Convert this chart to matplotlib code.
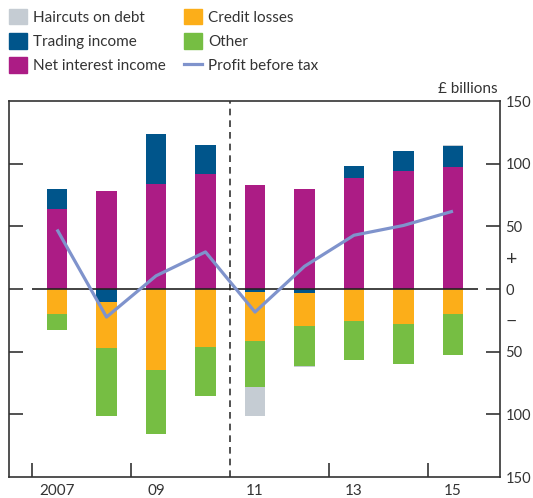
import matplotlib
matplotlib.use('Agg')
import matplotlib.pyplot as plt
import matplotlib.patches as mpatches
import matplotlib.lines as mlines
import numpy as np

plt.rcParams['font.family'] = ['Lato', 'DejaVu Sans']

years = np.array([2007, 2008, 2009, 2010, 2011, 2012, 2013, 2014, 2015])
year_labels = ['2007', '09', '11', '13', '15']
label_years = [2007, 2009, 2011, 2013, 2015]

# £ billions
net_interest = [64, 78, 83.5, 91.5, 82.7, 79.5, 88.3, 93.9, 97.1]
trading = [16, -10.7, 40, 23.2, -2.1, -2.9, 9.6, 16, 16.8]
credit_losses = [-20, -36.2, -64.5, -46.1, -39.2, -26.4, -25.3, -27.7, -19.7]
other = [-12.5, -54.4, -51.2, -39.2, -36.8, -32, -31.2, -32, -32.8]
haircuts = [0, 0, 0, 0, -23.2, -0.6, 0.6, 0.6, 0.6]
profit = [47.5, -22.4, 10.5, 29.6, -18.4, 18.1, 42.9, 50.7, 62.1]

series = [
    ('Net interest income', net_interest, '#AC1C85'),
    ('Trading income', trading, '#00558B'),
    ('Credit losses', credit_losses, '#FCAE19'),
    ('Other', other, '#76BE43'),
    ('Haircuts on debt', haircuts, '#C5CCD3'),
]
profit_color = '#7F93CC'
ink = '#333333'

fig = plt.figure(figsize=(5.33, 4.98), dpi=100)
ax = fig.add_axes([9/533, 1-477/498, 491/533, 376/498])

pos_base = np.zeros(len(years))
neg_base = np.zeros(len(years))
for name, vals, col in series:
    v = np.array(vals, dtype=float)
    base = np.where(v >= 0, pos_base, neg_base)
    ax.bar(years, v, bottom=base, width=0.42, color=col, linewidth=0, zorder=2)
    pos_base = pos_base + np.where(v > 0, v, 0)
    neg_base = neg_base + np.where(v < 0, v, 0)

ax.hlines(0, 2006.5, 2015.5, color='#222222', linewidth=1.2, zorder=3)
ax.plot(years, profit, color=profit_color, linewidth=2.3, zorder=4,
        solid_capstyle='butt')
ax.axvline(2010.5, color='#333333', linewidth=1.2, linestyle=(0, (4, 3)), zorder=1)

ax.set_xlim(2006.03, 2015.95)
ax.set_ylim(-150, 150)

ax.set_xticks([2006.5, 2008.5, 2012.5, 2014.5])
ax.set_xticks(label_years, minor=True)
ax.set_xticklabels(year_labels, minor=True)
ax.tick_params(axis='x', which='major', direction='in', length=10, width=1.2,
               color=ink, labelbottom=False)
ax.tick_params(axis='x', which='minor', length=0, pad=5, labelsize=11,
               labelcolor=ink)

ax.set_yticks([-100, -50, 0, 50, 100])
ax.set_yticklabels(['100', '50', '0', '50', '100'])
ax.set_yticks([-150, -25, 25, 150], minor=True)
ax.set_yticklabels(['150', '\u2212', '+', '150'], minor=True)
ax.tick_params(axis='y', which='major', direction='in', length=10, width=1.2,
               color=ink, left=True, right=True, labelleft=False,
               labelright=True, pad=4, labelsize=10.5, labelcolor=ink)
ax.tick_params(axis='y', which='minor', length=0, left=False, right=True,
               labelleft=False, labelright=True, pad=4, labelsize=10.5,
               labelcolor=ink)
# the + / − signs are drawn a bit larger
for lab in ax.yaxis.get_minorticklabels():
    if lab.get_text() in ('+', '\u2212'):
        lab.set_fontsize(14)

for s in ax.spines.values():
    s.set_color(ink)
    s.set_linewidth(1.2)

fig.text(498/533, 1-93/498, '\u00a3 billions', ha='right', va='baseline',
         fontsize=11, color=ink)

handles = [
    mpatches.Patch(color='#C5CCD3', label='Haircuts on debt'),
    mpatches.Patch(color='#00558B', label='Trading income'),
    mpatches.Patch(color='#AC1C85', label='Net interest income'),
    mpatches.Patch(color='#FCAE19', label='Credit losses'),
    mpatches.Patch(color='#76BE43', label='Other'),
    mlines.Line2D([], [], color=profit_color, linewidth=2.3, label='Profit before tax'),
]
leg = fig.legend(handles=handles, ncol=2, loc='upper left',
                 bbox_to_anchor=(7/533, 1-7/498), frameon=False,
                 fontsize=11, handlelength=1.2, handleheight=1.2,
                 handletextpad=0.4, columnspacing=1.2, labelspacing=0.55,
                 borderpad=0.1, borderaxespad=0)
for t in leg.get_texts():
    t.set_color(ink)

fig.savefig('out.png', dpi=100)
